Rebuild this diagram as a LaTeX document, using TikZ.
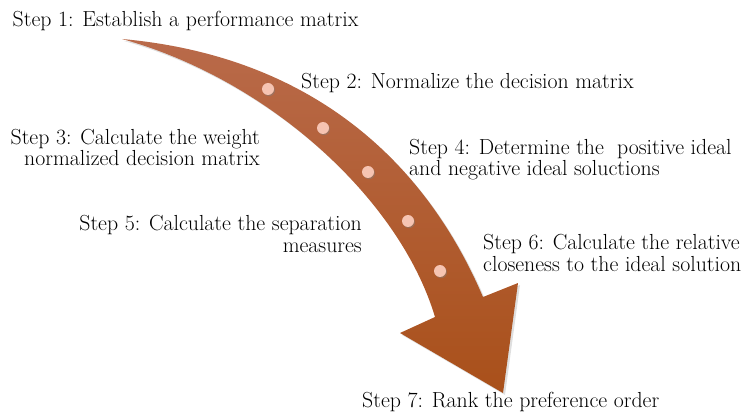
\RequirePackage{fix-cm}
\documentclass[tikz,border=0pt]{standalone}
\usetikzlibrary{shadows}
\definecolor{arrowtop}{HTML}{B96A4A}
\definecolor{arrowbot}{HTML}{A9501A}
\definecolor{dotfill}{HTML}{F6C4B2}
\tikzset{
  steptext/.style={inner sep=0pt,font=\fontsize{21.8}{21}\selectfont,text=black},
  stepdot/.style={circle,fill=dotfill,inner sep=0pt,minimum size=12pt,
                  drop shadow={shadow xshift=1pt,shadow yshift=-1.2pt,opacity=0.45}},
  bigarrow/.style={top color=arrowtop,bottom color=arrowbot,
                   drop shadow={shadow xshift=2pt,shadow yshift=-2pt,opacity=0.25}}
}

\begin{document}
\begin{tikzpicture}[x=1pt,y=-1pt]
  \useasboundingbox (0,0) rectangle (747,414);
  % curved process arrow
  \path[bigarrow] (122,39) .. controls (300,55) and (420,150) .. (483,297)
    -- (518,283) -- (503,393) -- (400,333) -- (435,317)
    .. controls (400,200) and (270,80) .. cycle;
  \foreach \n/\x/\y in {1/268/89,2/323/128,3/368/172,4/408/221,5/440/271}
    \node[stepdot] (dot\n) at (\x,\y) {};

  % step labels
  \node[steptext,anchor=base west] (s1) at (12.5,27)
    {Step 1: Establish a performance matrix};
  \node[steptext,anchor=base west] (s2) at (301,89)
    {Step 2: Normalize the decision matrix};
  \node[steptext,anchor=base east,align=right] (s3) at (260,166)
    {Step 3: Calculate the weight\\normalized decision matrix};
  \node[steptext,anchor=base west,align=left] (s4) at (409,176)
    {Step 4: Determine the\ \ positive ideal\\and negative ideal soluctions};
  \node[steptext,anchor=base east,align=right] (s5) at (362,252)
    {Step 5: Calculate the separation\\measures};
  \node[steptext,anchor=base west,align=left] (s6) at (483,271)
    {Step 6: Calculate the relative\\closeness to the ideal solution};
  \node[steptext,anchor=base west] (s7) at (362,407)
    {Step 7: Rank the preference order};
\end{tikzpicture}
\end{document}
